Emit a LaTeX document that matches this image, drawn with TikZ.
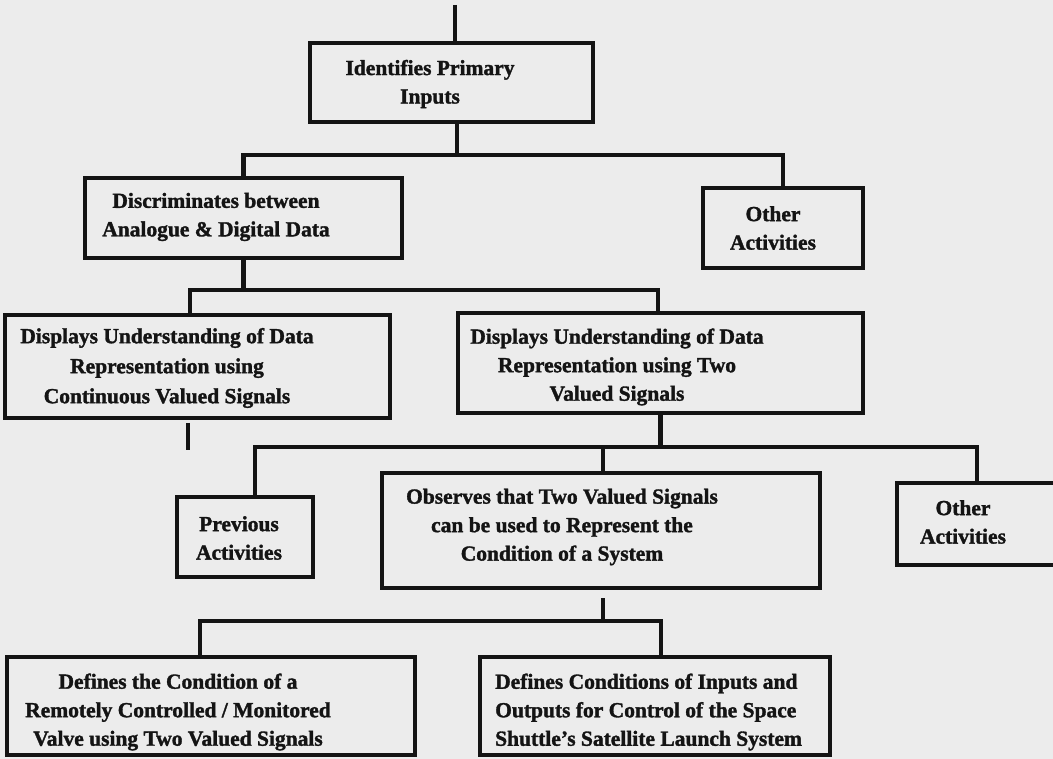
\documentclass[tikz,border=0pt]{standalone}
\usepackage{fontspec}
\setmainfont{Liberation Serif}[BoldFeatures={FakeBold=1.5}]
\definecolor{ink}{HTML}{141414}
\definecolor{paper}{HTML}{ECECEC}
\begin{document}
\begin{tikzpicture}[x=1pt,y=-1pt,
  box/.style={draw=ink, line width=4.5pt, rectangle, inner sep=0pt, outer sep=0pt, anchor=north west},
  lbl/.style={font=\bfseries\fontsize{21.5}{28.5}\selectfont, align=center, inner sep=0pt, text=ink},
  conn/.style={draw=ink, line width=4.5pt, line join=miter}]
\fill[paper] (0,0) rectangle (1053,759);
\useasboundingbox (0,0) rectangle (1053,759);
\clip (0,0) rectangle (1053,759);

% boxes
\node[box, minimum width=283pt, minimum height=79pt]  (b1)  at (310,43)  {};
\node[box, minimum width=317pt, minimum height=80pt]  (b2)  at (85,178)  {};
\node[box, minimum width=160pt, minimum height=80pt]  (b3)  at (703,188) {};
\node[box, minimum width=385pt, minimum height=103pt] (b4)  at (5,315)   {};
\node[box, minimum width=405pt, minimum height=100pt] (b5)  at (458,313) {};
\node[box, minimum width=136pt, minimum height=80pt]  (b6)  at (177,497) {};
\node[box, minimum width=438pt, minimum height=115pt] (b7)  at (382,473) {};
\node[box, minimum width=170pt, minimum height=82pt]  (b8)  at (897,483) {};
\node[box, minimum width=408pt, minimum height=98pt]  (b9)  at (7,657)   {};
\node[box, minimum width=350pt, minimum height=98pt]  (b10) at (480,657) {};

% labels
\node[lbl] (t1) at (430,84)  {Identifies Primary\\Inputs};
\node[lbl] (t2) at (216,217) {Discriminates between\\Analogue \& Digital Data};
\node[lbl] (t3) at (773,228) {Other\\Activities};
\node[lbl, font=\bfseries\fontsize{21.5}{30}\selectfont] (t4) at (167,368) {Displays Understanding of Data\\Representation using\\Continuous Valued Signals};
\node[lbl] (t5) at (617,367) {Displays Understanding of Data\\Representation using Two\\Valued Signals};
\node[lbl] (t6) at (239,538) {Previous\\Activities};
\node[lbl] (t7) at (562,527) {Observes that Two Valued Signals\\can be used to Represent the\\Condition of a System};
\node[lbl] (t8) at (963,522) {Other\\Activities};
\node[lbl] (t9) at (178,712) {Defines the Condition of a\\Remotely Controlled / Monitored\\Valve using Two Valued Signals};
\node[lbl, align=left, anchor=west] (t10) at (495,712) {Defines Conditions of Inputs and\\Outputs for Control of the Space\\Shuttle's Satellite Launch System};

% junction coordinates
\coordinate (top) at (455,5);
\coordinate (h1)  at (457,155);
\coordinate (j2a) at (190,290);
\coordinate (j2b) at (658,290);
\coordinate (j3a) at (255,447);
\coordinate (j3b) at (977,447);
\coordinate (j3c) at (603,447);
\coordinate (s1a) at (188,423);
\coordinate (s1b) at (188,450);
\coordinate (s2a) at (603,598);
\coordinate (s2b) at (603,621);
\coordinate (j4a) at (200,621);
\coordinate (j4b) at (661,621);

% connectors
\draw[conn] (top) -- (top |- b1.north);
\draw[conn] (h1 |- b1.south) -- (h1);
\draw[conn] (b2.north) |- (h1) -| (b3.north);
\draw[conn] (b2.south) -- (b2.south |- j2a);
\draw[conn] (b4.north -| j2a) -- (j2a) -- (j2b) -- (b5.north -| j2b);
\draw[conn] (s1a) -- (s1b);
\draw[conn] (b5.south) -- (b5.south |- j3a);
\draw[conn] (b6.north -| j3a) -- (j3a) -- (j3b) -- (b8.north -| j3b);
\draw[conn] (j3c) -- (b7.north -| j3c);
\draw[conn] (s2a) -- (s2b);
\draw[conn] (b9.north -| j4a) -- (j4a) -- (j4b) -- (b10.north -| j4b);
\end{tikzpicture}
\end{document}
